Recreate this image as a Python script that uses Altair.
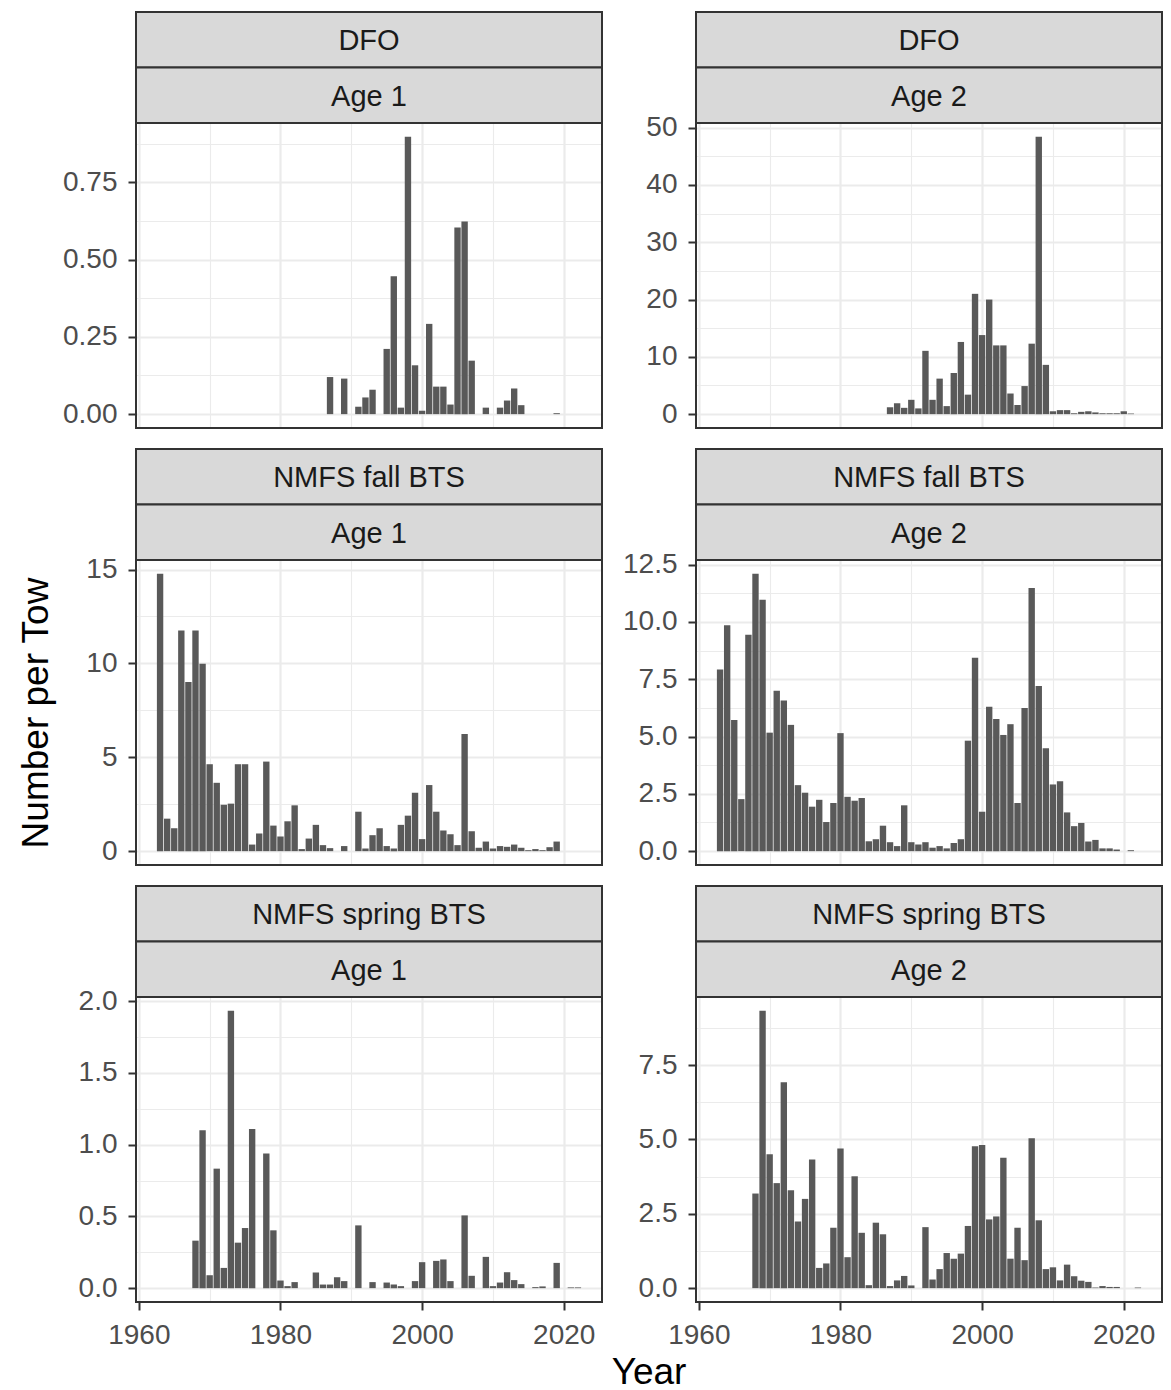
import json
import altair as alt
import pandas as pd

# ---------------- data ----------------
dfo_a1_years = [1987, 1989, 1991, 1992, 1993, 1995, 1996, 1997, 1998, 1999, 2000, 2001,
                2002, 2003, 2004, 2005, 2006, 2007, 2009, 2011, 2012, 2013, 2014, 2019]
dfo_a1_vals = [0.120, 0.115, 0.024, 0.054, 0.079, 0.211, 0.446, 0.021, 0.897, 0.158, 0.011, 0.292,
               0.089, 0.089, 0.031, 0.604, 0.623, 0.173, 0.021, 0.021, 0.044, 0.083, 0.029, 0.003]

dfo_a2_years = list(range(1987, 2022))
dfo_a2_vals = [1.2, 1.9, 1.1, 2.5, 1.0, 11.05, 2.5, 6.2, 1.4, 7.2, 12.6, 3.4, 21.0, 13.8, 20.0,
               12.0, 12.0, 3.6, 1.6, 4.9, 12.3, 48.4, 8.6, 0.5, 0.7, 0.7, 0.15, 0.4, 0.5, 0.3,
               0.15, 0.15, 0.15, 0.5, 0.1]

fall_a1_years = list(range(1963, 2020))
fall_a1_vals = [14.77, 1.73, 1.22, 11.75, 9.01, 11.75, 9.98, 4.63, 3.64, 2.47, 2.53, 4.63, 4.63,
                0.35, 0.94, 4.77, 1.36, 0.78, 1.59, 2.44, 0.11, 0.67, 1.40, 0.32, 0.16, 0.0,
                0.27, 0.0, 2.10, 0.14, 0.85, 1.22, 0.27, 0.14, 1.40, 1.89, 3.11, 0.64, 3.52,
                2.10, 1.10, 0.90, 0.32, 6.24, 1.06, 0.18, 0.51, 0.14, 0.27, 0.23, 0.35, 0.18,
                0.05, 0.11, 0.05, 0.21, 0.51]

fall_a2_years = list(range(1963, 2022))
fall_a2_vals = [7.93, 9.86, 5.72, 2.27, 9.44, 12.10, 10.97, 5.17, 7.00, 6.57, 5.51, 2.88, 2.55,
                1.94, 2.24, 1.27, 2.10, 5.15, 2.37, 2.20, 2.32, 0.43, 0.52, 1.11, 0.39, 0.22,
                2.00, 0.39, 0.29, 0.39, 0.15, 0.22, 0.12, 0.35, 0.52, 4.82, 8.44, 1.72, 6.30,
                5.77, 5.07, 5.54, 2.10, 6.25, 11.48, 7.21, 4.49, 2.91, 3.05, 1.69, 1.09, 1.23,
                0.42, 0.49, 0.12, 0.12, 0.07, 0.0, 0.04]

spring_a1_years = list(range(1968, 2023))
spring_a1_vals = [0.331, 1.10, 0.09, 0.833, 0.141, 1.933, 0.317, 0.419, 1.109, 0.0, 0.938, 0.403,
                  0.053, 0.014, 0.042, 0.0, 0.0, 0.109, 0.025, 0.025, 0.076, 0.049, 0.0, 0.4375,
                  0.0, 0.042, 0.0, 0.039, 0.025, 0.014, 0.0, 0.049, 0.181, 0.0, 0.19, 0.20,
                  0.049, 0.0, 0.507, 0.086, 0.0, 0.218, 0.014, 0.039, 0.111, 0.056, 0.028, 0.0,
                  0.007, 0.012, 0.0, 0.176, 0.0, 0.005, 0.005]

spring_a2_years = list(range(1968, 2023))
spring_a2_vals = [3.18, 9.32, 4.50, 3.53, 6.92, 3.29, 2.24, 3.00, 4.32, 0.68, 0.83, 2.03, 4.69,
                  1.04, 3.76, 1.86, 0.10, 2.20, 1.81, 0.07, 0.26, 0.41, 0.09, 0.0, 2.05, 0.29,
                  0.64, 1.18, 0.99, 1.16, 2.09, 4.77, 4.81, 2.31, 2.41, 4.38, 0.99, 2.03, 0.94,
                  5.04, 2.28, 0.64, 0.70, 0.26, 0.79, 0.40, 0.25, 0.21, 0.02, 0.07, 0.04, 0.04,
                  0.0, 0.0, 0.02]

surveys = ["DFO", "NMFS fall BTS", "NMFS spring BTS"]
ages = ["Age 1", "Age 2"]

# tick breaks (major labelled, minor for grid only)
x_major = [1960, 1980, 2000, 2020]
x_minor = [1970, 1990, 2010]
y_breaks = {
    ("DFO", "Age 1"): ([0, 0.25, 0.5, 0.75], [0.125, 0.375, 0.625, 0.875], ".2f"),
    ("DFO", "Age 2"): ([0, 10, 20, 30, 40, 50], [5, 15, 25, 35, 45], "d"),
    ("NMFS fall BTS", "Age 1"): ([0, 5, 10, 15], [2.5, 7.5, 12.5], "d"),
    ("NMFS fall BTS", "Age 2"): ([0, 2.5, 5, 7.5, 10, 12.5], [1.25, 3.75, 6.25, 8.75, 11.25], ".1f"),
    ("NMFS spring BTS", "Age 1"): ([0, 0.5, 1, 1.5, 2], [0.25, 0.75, 1.25, 1.75], ".1f"),
    ("NMFS spring BTS", "Age 2"): ([0, 2.5, 5, 7.5], [1.25, 3.75, 6.25, 8.75], ".1f"),
}
series = {
    ("DFO", "Age 1"): (dfo_a1_years, dfo_a1_vals),
    ("DFO", "Age 2"): (dfo_a2_years, dfo_a2_vals),
    ("NMFS fall BTS", "Age 1"): (fall_a1_years, fall_a1_vals),
    ("NMFS fall BTS", "Age 2"): (fall_a2_years, fall_a2_vals),
    ("NMFS spring BTS", "Age 1"): (spring_a1_years, spring_a1_vals),
    ("NMFS spring BTS", "Age 2"): (spring_a2_years, spring_a2_vals),
}

# ---------------- style ----------------
FONT = "Liberation Sans"
BAR = "#595959"
STRIP = "#D9D9D9"
DARK = "#333333"
GRID = "#EBEBEB"
W, H = 466, 305
STRIP_H = 55.5
EXT = 80
XDOM = [1959.6, 2025.4]


def panel(survey, age, bottom):
    years, vals = series[(survey, age)]
    major, minor, fmt = y_breaks[(survey, age)]
    df = pd.DataFrame({"year": years, "value": vals})
    ymax = max(vals)
    ydom = [-0.05 * ymax, 1.05 * ymax]

    ytest = f"indexof({json.dumps(major)}, datum.value) >= 0"
    yax = alt.Axis(
        values=sorted(major + minor),
        labelExpr=f"{ytest} ? format(datum.value, '{fmt}') : ''",
        tickOpacity={"condition": {"test": ytest, "value": 1}, "value": 0},
        gridWidth={"condition": {"test": ytest, "value": 2.2}, "value": 1.1},
        gridColor=GRID, grid=True, domain=False, title=None,
        tickSize=8, tickWidth=2, tickColor=DARK,
        labelFontSize=28, labelColor="#4D4D4D", labelPadding=11, labelFont=FONT,
        labelOverlap=False, labelFlush=False,
        minExtent=EXT, maxExtent=EXT,
    )
    xtest = f"indexof({json.dumps(x_major)}, datum.value) >= 0"
    if bottom:
        xax = alt.Axis(
            values=sorted(x_major + x_minor),
            labelExpr=f"{xtest} ? format(datum.value, 'd') : ''",
            tickOpacity={"condition": {"test": xtest, "value": 1}, "value": 0},
            gridWidth={"condition": {"test": xtest, "value": 2.2}, "value": 1.1},
            gridColor=GRID, grid=True, domain=False, title=None,
            tickSize=8, tickWidth=2, tickColor=DARK,
            labelFontSize=28, labelColor="#4D4D4D", labelPadding=11, labelFont=FONT,
            labelOverlap=False, labelFlush=False,
        )
    else:
        xax = alt.Axis(
            values=sorted(x_major + x_minor),
            gridWidth={"condition": {"test": xtest, "value": 2.2}, "value": 1.1},
            gridColor=GRID, grid=True, domain=False, title=None,
            labels=False, ticks=False, minExtent=0, maxExtent=0,
        )

    bars = (
        alt.Chart(df)
        .transform_calculate(x0="datum.year - 0.45", x1="datum.year + 0.45")
        .mark_bar(color=BAR, strokeWidth=0)
        .encode(
            x=alt.X("x0:Q", scale=alt.Scale(domain=XDOM, nice=False, zero=False), axis=xax),
            x2="x1:Q",
            y=alt.Y("value:Q", scale=alt.Scale(domain=ydom, nice=False, zero=False), axis=yax),
            y2=alt.datum(0),
        )
    )
    lab = alt.Chart(pd.DataFrame({"s": [survey], "a": [age]}))
    border = lab.mark_rect(fill="white", fillOpacity=0, stroke=DARK, strokeWidth=2).encode(
        x=alt.value(0), x2=alt.value(W), y=alt.value(0), y2=alt.value(H))
    strip1 = lab.mark_rect(fill=STRIP, stroke=DARK, strokeWidth=2).encode(
        x=alt.value(0), x2=alt.value(W), y=alt.value(-2 * STRIP_H), y2=alt.value(-STRIP_H))
    strip2 = lab.mark_rect(fill=STRIP, stroke=DARK, strokeWidth=2).encode(
        x=alt.value(0), x2=alt.value(W), y=alt.value(-STRIP_H), y2=alt.value(0))
    t1 = lab.mark_text(fontSize=29, color="#1A1A1A", font=FONT, baseline="middle").encode(
        text="s:N", x=alt.value(W / 2), y=alt.value(-1.5 * STRIP_H + 1.5))
    t2 = lab.mark_text(fontSize=29, color="#1A1A1A", font=FONT, baseline="middle").encode(
        text="a:N", x=alt.value(W / 2), y=alt.value(-0.5 * STRIP_H + 1.5))
    return alt.layer(bars, border, strip1, strip2, t1, t2).properties(width=W, height=H)


rows = []
for i, s in enumerate(surveys):
    bottom = i == len(surveys) - 1
    rows.append(alt.hconcat(panel(s, ages[0], bottom), panel(s, ages[1], bottom), spacing=13))
grid = alt.vconcat(*rows, spacing=19)

# x title: origin aligned with the left plot's left edge
xlabel = (
    alt.Chart(pd.DataFrame({"t": ["Year"]}))
    .mark_text(fontSize=37, color="black", font=FONT, baseline="middle")
    .encode(text="t:N", x=alt.value(513), y=alt.value(24))
    .properties(width=1020, height=36)
)
# y title: origin aligned with the first plot's top edge
ylabel = (
    alt.Chart(pd.DataFrame({"t": ["Number per Tow"]}))
    .mark_text(fontSize=37, color="black", font=FONT, baseline="middle", angle=270)
    .encode(text="t:N", x=alt.value(29), y=alt.value(590))
    .properties(width=48, height=900)
)

chart = (
    alt.hconcat(ylabel, alt.vconcat(grid, xlabel, spacing=0), spacing=0)
    .properties(padding={"left": 0, "top": 3, "right": 0, "bottom": 0})
    .configure(font=FONT)
    .configure_view(stroke="transparent", strokeWidth=0)
)

chart.save("out.html", embed_options={"renderer": "svg", "actions": False})
